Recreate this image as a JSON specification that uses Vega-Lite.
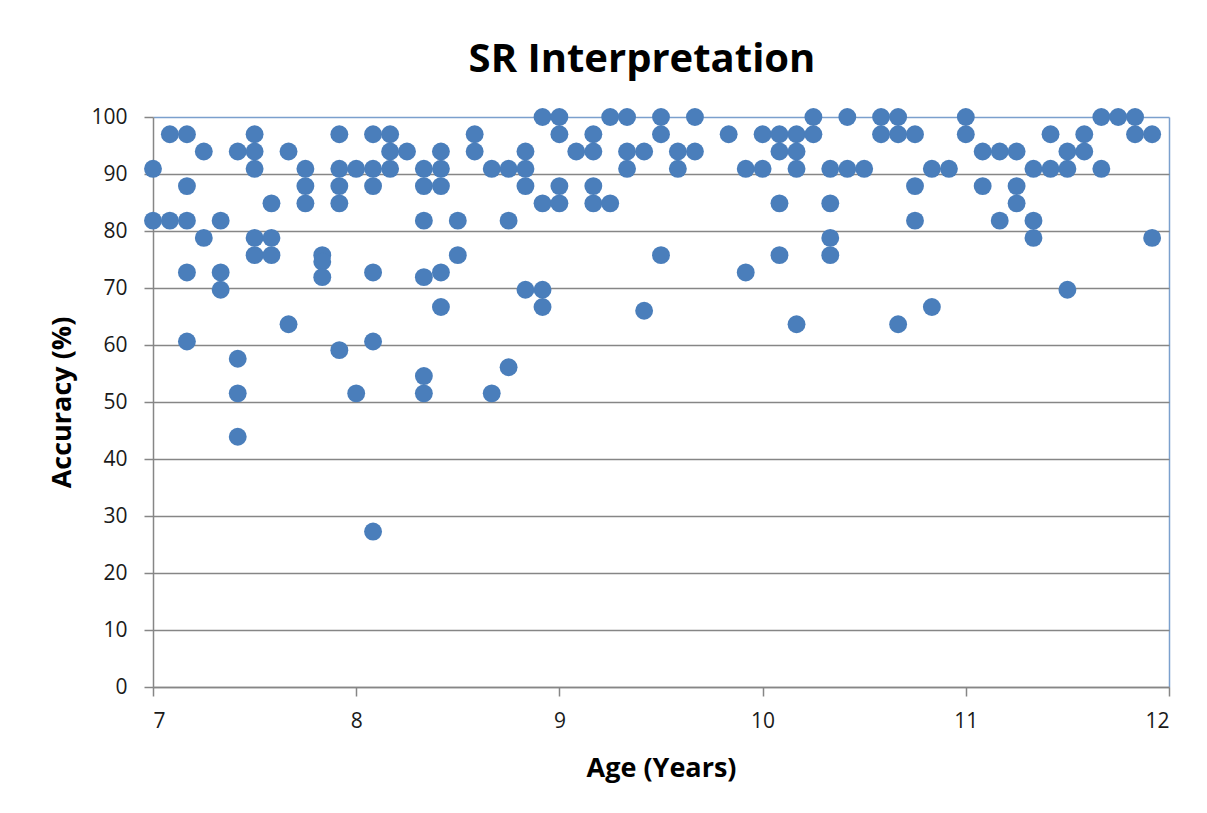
{
  "$schema": "https://vega.github.io/schema/vega-lite/v6.json",
  "autosize": {"type": "none"},
  "width": 1016,
  "height": 570,
  "padding": {"left": 153, "top": 117, "right": 38, "bottom": 126},
  "background": "white",
  "title": {"text": "SR Interpretation", "font": "Open Sans", "fontSize": 40, "fontWeight": "bold", "color": "#000000", "offset": 26, "dx": -19, "anchor": "middle"},
  "config": {"view": {"stroke": null}},
  "data": {"values": [
    {"age": 7.0, "acc": 90.91}, {"age": 7.0, "acc": 81.82},
    {"age": 7.083, "acc": 96.97}, {"age": 7.083, "acc": 81.82},
    {"age": 7.167, "acc": 96.97}, {"age": 7.167, "acc": 87.88}, {"age": 7.167, "acc": 81.82}, {"age": 7.167, "acc": 72.73}, {"age": 7.167, "acc": 60.61},
    {"age": 7.25, "acc": 93.94}, {"age": 7.25, "acc": 78.79},
    {"age": 7.333, "acc": 81.82}, {"age": 7.333, "acc": 72.73}, {"age": 7.333, "acc": 69.7},
    {"age": 7.417, "acc": 93.94}, {"age": 7.417, "acc": 57.58}, {"age": 7.417, "acc": 51.52}, {"age": 7.417, "acc": 43.9},
    {"age": 7.5, "acc": 96.97}, {"age": 7.5, "acc": 93.94}, {"age": 7.5, "acc": 90.91}, {"age": 7.5, "acc": 78.79}, {"age": 7.5, "acc": 75.76},
    {"age": 7.583, "acc": 84.85}, {"age": 7.583, "acc": 78.79}, {"age": 7.583, "acc": 75.76},
    {"age": 7.667, "acc": 93.94}, {"age": 7.667, "acc": 63.64},
    {"age": 7.75, "acc": 90.91}, {"age": 7.75, "acc": 87.88}, {"age": 7.75, "acc": 84.85},
    {"age": 7.833, "acc": 75.76}, {"age": 7.833, "acc": 74.6}, {"age": 7.833, "acc": 71.9},
    {"age": 7.917, "acc": 96.97}, {"age": 7.917, "acc": 90.91}, {"age": 7.917, "acc": 87.88}, {"age": 7.917, "acc": 84.85}, {"age": 7.917, "acc": 59.1},
    {"age": 8.0, "acc": 90.91}, {"age": 8.0, "acc": 51.52},
    {"age": 8.083, "acc": 96.97}, {"age": 8.083, "acc": 90.91}, {"age": 8.083, "acc": 87.88}, {"age": 8.083, "acc": 72.73}, {"age": 8.083, "acc": 60.61}, {"age": 8.083, "acc": 27.27},
    {"age": 8.167, "acc": 96.97}, {"age": 8.167, "acc": 93.94}, {"age": 8.167, "acc": 90.91},
    {"age": 8.25, "acc": 93.94},
    {"age": 8.333, "acc": 90.91}, {"age": 8.333, "acc": 87.88}, {"age": 8.333, "acc": 81.82}, {"age": 8.333, "acc": 71.9}, {"age": 8.333, "acc": 54.55}, {"age": 8.333, "acc": 51.52},
    {"age": 8.417, "acc": 93.94}, {"age": 8.417, "acc": 90.91}, {"age": 8.417, "acc": 87.88}, {"age": 8.417, "acc": 72.73}, {"age": 8.417, "acc": 66.67},
    {"age": 8.5, "acc": 81.82}, {"age": 8.5, "acc": 75.76},
    {"age": 8.583, "acc": 96.97}, {"age": 8.583, "acc": 93.94},
    {"age": 8.667, "acc": 90.91}, {"age": 8.667, "acc": 51.52},
    {"age": 8.75, "acc": 90.91}, {"age": 8.75, "acc": 81.82}, {"age": 8.75, "acc": 56.1},
    {"age": 8.833, "acc": 93.94}, {"age": 8.833, "acc": 90.91}, {"age": 8.833, "acc": 87.88}, {"age": 8.833, "acc": 69.7},
    {"age": 8.917, "acc": 100}, {"age": 8.917, "acc": 84.85}, {"age": 8.917, "acc": 69.7}, {"age": 8.917, "acc": 66.67},
    {"age": 9.0, "acc": 100}, {"age": 9.0, "acc": 96.97}, {"age": 9.0, "acc": 87.88}, {"age": 9.0, "acc": 84.85},
    {"age": 9.083, "acc": 93.94},
    {"age": 9.167, "acc": 96.97}, {"age": 9.167, "acc": 93.94}, {"age": 9.167, "acc": 87.88}, {"age": 9.167, "acc": 84.85},
    {"age": 9.25, "acc": 100}, {"age": 9.25, "acc": 84.85},
    {"age": 9.333, "acc": 100}, {"age": 9.333, "acc": 93.94}, {"age": 9.333, "acc": 90.91},
    {"age": 9.417, "acc": 93.94}, {"age": 9.417, "acc": 66.0},
    {"age": 9.5, "acc": 100}, {"age": 9.5, "acc": 96.97}, {"age": 9.5, "acc": 75.76},
    {"age": 9.583, "acc": 93.94}, {"age": 9.583, "acc": 90.91},
    {"age": 9.667, "acc": 100}, {"age": 9.667, "acc": 93.94},
    {"age": 9.833, "acc": 96.97},
    {"age": 9.917, "acc": 90.91}, {"age": 9.917, "acc": 72.73},
    {"age": 10.0, "acc": 96.97}, {"age": 10.0, "acc": 90.91},
    {"age": 10.083, "acc": 96.97}, {"age": 10.083, "acc": 93.94}, {"age": 10.083, "acc": 84.85}, {"age": 10.083, "acc": 75.76},
    {"age": 10.167, "acc": 96.97}, {"age": 10.167, "acc": 93.94}, {"age": 10.167, "acc": 90.91}, {"age": 10.167, "acc": 63.64},
    {"age": 10.25, "acc": 100}, {"age": 10.25, "acc": 96.97},
    {"age": 10.333, "acc": 90.91}, {"age": 10.333, "acc": 84.85}, {"age": 10.333, "acc": 78.79}, {"age": 10.333, "acc": 75.76},
    {"age": 10.417, "acc": 100}, {"age": 10.417, "acc": 90.91},
    {"age": 10.5, "acc": 90.91},
    {"age": 10.583, "acc": 100}, {"age": 10.583, "acc": 96.97},
    {"age": 10.667, "acc": 100}, {"age": 10.667, "acc": 96.97}, {"age": 10.667, "acc": 63.64},
    {"age": 10.75, "acc": 96.97}, {"age": 10.75, "acc": 87.88}, {"age": 10.75, "acc": 81.82},
    {"age": 10.833, "acc": 90.91}, {"age": 10.833, "acc": 66.67},
    {"age": 10.917, "acc": 90.91},
    {"age": 11.0, "acc": 100}, {"age": 11.0, "acc": 96.97},
    {"age": 11.083, "acc": 93.94}, {"age": 11.083, "acc": 87.88},
    {"age": 11.167, "acc": 93.94}, {"age": 11.167, "acc": 81.82},
    {"age": 11.25, "acc": 93.94}, {"age": 11.25, "acc": 87.88}, {"age": 11.25, "acc": 84.85},
    {"age": 11.333, "acc": 90.91}, {"age": 11.333, "acc": 81.82}, {"age": 11.333, "acc": 78.79},
    {"age": 11.417, "acc": 96.97}, {"age": 11.417, "acc": 90.91},
    {"age": 11.5, "acc": 93.94}, {"age": 11.5, "acc": 90.91}, {"age": 11.5, "acc": 69.7},
    {"age": 11.583, "acc": 96.97}, {"age": 11.583, "acc": 93.94},
    {"age": 11.667, "acc": 100}, {"age": 11.667, "acc": 90.91},
    {"age": 11.75, "acc": 100},
    {"age": 11.833, "acc": 100}, {"age": 11.833, "acc": 96.97},
    {"age": 11.917, "acc": 96.97}, {"age": 11.917, "acc": 78.79}
  ]},
  "mark": {"type": "point", "filled": true, "shape": "circle", "size": 320, "color": "#4A7EBB", "opacity": 1},
  "encoding": {
    "x": {
      "field": "age", "type": "quantitative", "title": "Age (Years)",
      "scale": {"domain": [7, 12], "nice": false, "zero": false},
      "axis": {
        "values": [7, 8, 9, 10, 11, 12], "format": "d",
        "grid": true, "gridColor": {"condition": {"test": "datum.value === 12", "value": "#7BA0CD"}, "value": "transparent"}, "gridWidth": 1.5,
        "domainColor": "#868686", "domainWidth": 1.5, "tickColor": "#868686", "tickWidth": 1.5, "tickSize": 9,
        "labelFont": "Open Sans", "labelFontSize": 21, "labelColor": "#1a1a1a", "labelPadding": 14,
        "titleFont": "Open Sans", "titleFontSize": 27, "titleFontWeight": "bold", "titleColor": "#000000", "titlePadding": 24
      }
    },
    "y": {
      "field": "acc", "type": "quantitative", "title": "Accuracy (%)",
      "scale": {"domain": [0, 100], "nice": false},
      "axis": {
        "values": [0, 10, 20, 30, 40, 50, 60, 70, 80, 90, 100],
        "grid": true, "gridColor": {"condition": {"test": "datum.value === 100", "value": "#7BA0CD"}, "value": "#868686"}, "gridWidth": 1.5,
        "domainColor": "#868686", "domainWidth": 1.5, "tickColor": "#868686", "tickWidth": 1.5, "tickSize": 9,
        "labelFont": "Open Sans", "labelFontSize": 21, "labelColor": "#1a1a1a", "labelPadding": 17,
        "titleFont": "Open Sans", "titleFontSize": 27, "titleFontWeight": "bold", "titleColor": "#000000", "titlePadding": 14
      }
    }
  }
}
